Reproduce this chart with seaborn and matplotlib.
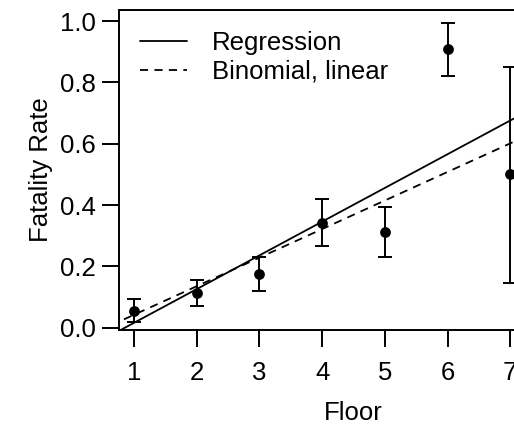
import numpy as np
import pandas as pd
import matplotlib
matplotlib.use("Agg")
import matplotlib.pyplot as plt
import seaborn as sns

floors = [1, 2, 3, 4, 5, 6, 7]
rate = [0.054, 0.112, 0.175, 0.343, 0.313, 0.909, 0.500]
upper = [0.093, 0.156, 0.232, 0.420, 0.395, 0.995, 0.852]
lower = [0.019, 0.070, 0.119, 0.266, 0.232, 0.821, 0.147]

reg_coef = [-0.094, 0.110]      # intercept, slope
binom_coef = [-0.051, 0.0932]

sns.set_style("ticks")
plt.rcParams['font.family'] = ['Liberation Sans', 'DejaVu Sans']
plt.rcParams['text.color'] = 'black'
plt.rcParams['axes.labelcolor'] = 'black'
plt.rcParams['xtick.color'] = 'black'
plt.rcParams['ytick.color'] = 'black'

FS = 18.5

fig = plt.figure(figsize=(5.14, 4.28), dpi=100)
ax = fig.add_axes([119/514, 98/428, (588-119)/514, 320/428])

xlim = (0.76, 8.24)
ylim = (-0.0075, 1.0365)

df = pd.DataFrame({"Floor": floors, "rate": rate})
xl = np.array([0.0, 9.0])
lines = pd.DataFrame({
    "x": np.concatenate([xl, xl]),
    "y": np.concatenate([reg_coef[0] + reg_coef[1] * xl, binom_coef[0] + binom_coef[1] * xl]),
    "model": ["Regression"] * 2 + ["Binomial, linear"] * 2,
})

sns.lineplot(data=lines, x="x", y="y", style="model", color="black", lw=1.3,
             dashes={"Regression": "", "Binomial, linear": (4.5, 3.5)}, ax=ax)

ax.errorbar(floors, rate,
            yerr=[np.array(rate) - np.array(lower), np.array(upper) - np.array(rate)],
            fmt="none", ecolor="black", elinewidth=1.4, capsize=5, capthick=1.4)
sns.scatterplot(data=df, x="Floor", y="rate", color="black", s=60, edgecolor="black",
                linewidth=0, ax=ax, zorder=5, clip_on=False)

ax.set_xlim(*xlim)
ax.set_ylim(*ylim)
ax.set_xticks(floors)
ax.set_yticks([0.0, 0.2, 0.4, 0.6, 0.8, 1.0])
ax.set_yticklabels(["0.0", "0.2", "0.4", "0.6", "0.8", "1.0"])
for s in ax.spines.values():
    s.set_linewidth(1.4)
    s.set_color("black")
ax.tick_params(length=12, width=1.4, colors="black", labelcolor="black", labelsize=FS)
ax.tick_params(axis="x", pad=10)
ax.tick_params(axis="y", pad=5)
ax.set_xlabel("Floor", fontsize=FS, labelpad=12, color="black")
ax.set_ylabel("Fatality Rate", fontsize=FS, labelpad=5, color="black")

leg = ax.legend(loc="upper left", bbox_to_anchor=(0.0, 1.0), frameon=False, fontsize=FS,
                handlelength=1.85, handletextpad=0.95, labelspacing=0.2,
                borderaxespad=0.4, borderpad=0.4, title=None)
for t in leg.get_texts():
    t.set_color("black")
for h in leg.get_lines():
    h.set_linewidth(1.3)

fig.savefig("out.png", dpi=100)
